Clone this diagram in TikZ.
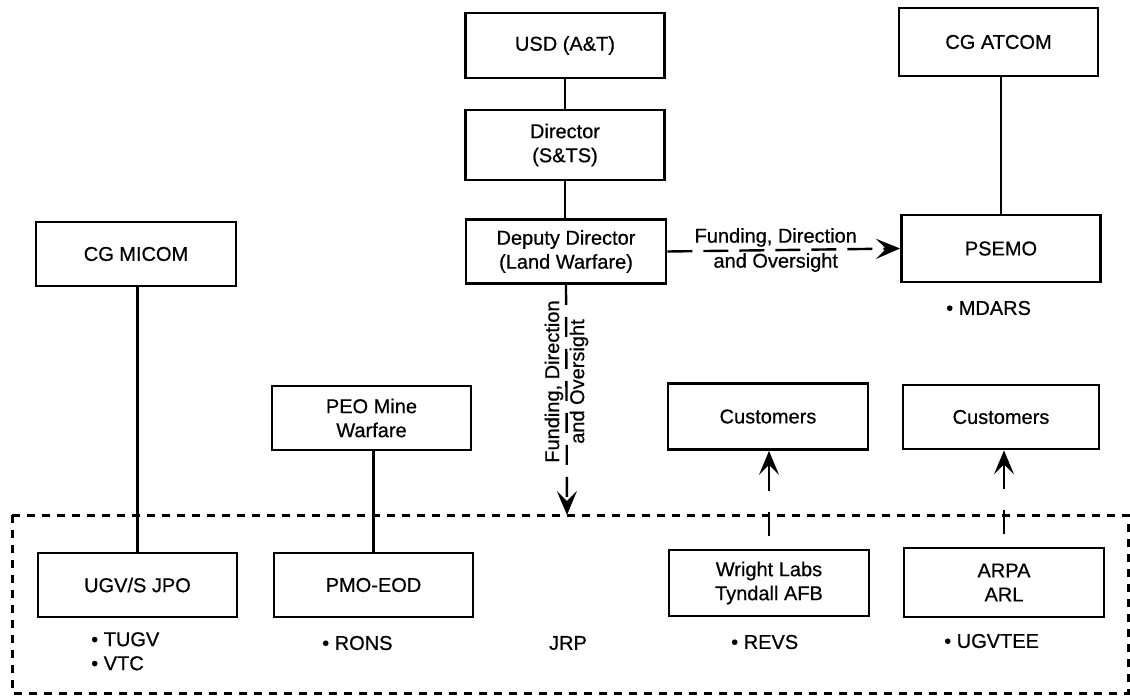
\documentclass[tikz,border=0pt]{standalone}
\usepackage{fontspec}
\setmainfont{Liberation Sans}[FakeBold=0.6]
\usetikzlibrary{arrows.meta}
\tikzset{
  box/.style={draw, line width=2.8pt, minimum width=199pt, minimum height=65pt,
    align=center, inner sep=2pt, font=\fontsize{20}{24}\selectfont},
  txt/.style={align=left, inner sep=0pt, font=\fontsize{20}{24}\selectfont},
  conn/.style={line width=2.4pt},
  tip/.style={-{Stealth[length=24pt,width=20pt,inset=10pt]}},
  fundh/.style={conn, tip, dash pattern=on 25pt off 11pt},
  fundv/.style={conn, tip, dash pattern=on 20pt off 12pt},
  upar/.style={conn, tip, dash pattern=on 24pt off 21pt on 43pt off 13pt, dash phase=88pt},
  border/.style={line width=3pt, dash pattern=on 8pt off 7pt}
}
\begin{document}
\begin{tikzpicture}[x=1pt,y=-1pt]
\useasboundingbox (0,0) rectangle (1130,696);
% boxes
\node[box, minimum height=65pt] (usd) at (565,45.5) {USD (A\&T)};
\node[box, minimum height=70pt] (dir) at (565,145) {Director\\(S\&TS)};
\node[box, minimum height=64pt, minimum width=200pt] (dep) at (566,251.5) {Deputy Director\\(Land Warfare)};
\node[box, minimum height=68pt] (cgatcom) at (998.5,42) {CG ATCOM};
\node[box, minimum height=67pt] (psemo) at (1001,248.5) {PSEMO};
\node[box, minimum height=64pt, minimum width=200pt] (cgmicom) at (136,254) {CG MICOM};
\node[box, minimum height=64pt] (peo) at (371.5,418) {PEO Mine\\Warfare};
\node[box, minimum height=66pt, minimum width=200pt] (cust1) at (768,416.5) {Customers};
\node[box, minimum height=64pt, minimum width=196pt] (cust2) at (1001,417) {Customers};
\node[box, minimum height=64pt] (ugv) at (137.5,585) {UGV/S JPO};
\node[box, minimum height=64pt] (pmo) at (373.5,585) {PMO-EOD};
\node[box, minimum height=66pt, minimum width=200pt] (wright) at (769,583) {Wright Labs\\Tyndall AFB};
\node[box, minimum height=69pt, minimum width=200pt] (arpa) at (1004,582.5) {ARPA\\ARL};
% bullet texts
\node[txt, anchor=west] (mdars) at (946,308) {\textbullet\ MDARS};
\node[txt, anchor=north west] (tugv) at (91,632) {\textbullet\ TUGV\\\textbullet\ VTC};
\node[txt, anchor=west] (rons) at (322,643) {\textbullet\ RONS};
\node[txt] (jrp) at (568,643) {JRP};
\node[txt, anchor=west] (revs) at (731,642) {\textbullet\ REVS};
\node[txt, anchor=west] (ugvtee) at (944,641) {\textbullet\ UGVTEE};
% dashed JRP border
\coordinate (b1) at (12,515);
\coordinate (b2) at (1128,693);
\draw[border] (b1) rectangle (b2);
% solid connectors
\draw[conn] (usd.south) -- (dir.north);
\draw[conn] (dir.south) -- (dir.south |- dep.north);
\draw[conn] (psemo.north) -- (psemo.north |- cgatcom.south);
\draw[conn] (ugv.north) -- (ugv.north |- cgmicom.south);
\draw[conn] (pmo.north) -- (pmo.north |- peo.south);
% funding connectors
\coordinate (jrptop) at (567,515);
\draw[fundh] (dep.east) -- (psemo.west)
  node[midway, align=center, inner sep=0pt, font=\fontsize{20}{25}\selectfont, xshift=-8pt] (fh) {Funding, Direction\\and Oversight};
\draw[fundv] (dep.south) -- (jrptop)
  node[pos=0.42, rotate=90, align=center, inner sep=0pt, font=\fontsize{20}{25}\selectfont] (fv) {Funding, Direction\\and Oversight};
% upward arrows to customers
\draw[upar] (wright.north) -- (wright.north |- cust1.south);
\draw[upar] (arpa.north) -- (arpa.north |- cust2.south);
\end{tikzpicture}
\end{document}
